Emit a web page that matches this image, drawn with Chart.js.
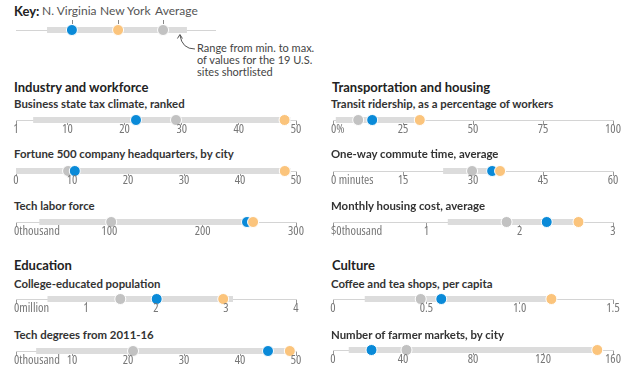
<!DOCTYPE html>
<html>
<head>
<meta charset="utf-8">
<script src="https://cdn.jsdelivr.net/npm/chart.js@4.4.1/dist/chart.umd.min.js"></script>
<style>
  body { margin: 0; background: #fff; }
  #wrap { position: relative; width: 640px; height: 379px; overflow: hidden; font-family: Lato, sans-serif; }
  .t { position: absolute; white-space: nowrap; line-height: 16px; }
  .sec { font-size: 13px; font-weight: 700; color: #222; }
  .sub { font-size: 11.4px; font-weight: 700; color: #333; }
  .key { font-size: 12px; color: #555; }
  .note { font-size: 11px; color: #444; line-height: 12px; white-space: pre; }
  canvas { position: absolute; }
</style>
</head>
<body>
<div id="wrap"></div>
<script>
// ---- data ----
var titles = ['Business state tax climate, ranked', 'Fortune 500 company headquarters, by city',
  'Tech labor force', 'College-educated population', 'Tech degrees from 2011-16',
  'Transit ridership, as a percentage of workers', 'One-way commute time, average',
  'Monthly housing cost, average', 'Coffee and tea shops, per capita', 'Number of farmer markets, by city'];
var axisMin = [1, 0, 0, 0, 0, 0, 0, 0, 0, 0];
var axisMax = [50, 50, 300, 4, 50, 100, 60, 3, 1.5, 160];
var tickValues = [[1, 10, 20, 30, 40, 50], [0, 10, 20, 30, 40, 50], [0, 100, 200, 300], [0, 1, 2, 3, 4],
  [0, 10, 20, 30, 40, 50], [0, 25, 50, 75, 100], [0, 15, 30, 45, 60], [0, 1, 2, 3], [0, 0.5, 1, 1.5],
  [0, 40, 80, 120, 160]];
var tickLabels = [['1', '10', '20', '30', '40', '50'], ['0', '10', '20', '30', '40', '50'],
  ['0thousand', '100', '200', '300'], ['0million', '1', '2', '3', '4'],
  ['0thousand', '10', '20', '30', '40', '50'], ['0%', '25', '50', '75', '100'],
  ['0 minutes', '15', '30', '45', '60'], ['$0thousand', '1', '2', '3'], ['0', '0.5', '1.0', '1.5'],
  ['0', '40', '80', '120', '160']];
var rangeMin = [4, 0, 25, 0.45, 3.6, 1, 23.6, 1.23, 0.17, 9];
var rangeMax = [49, 49, 254, 3.1, 49, 31, 35.8, 2.63, 1.17, 151];
var average = [29, 9.3, 102, 1.49, 20.9, 9, 29.8, 1.86, 0.47, 42];
var newYork = [48, 48, 254, 2.96, 48.9, 31, 35.8, 2.63, 1.17, 151];
var nVirginia = [22, 10.5, 247.5, 2.01, 45, 14, 34.1, 2.29, 0.58, 22];

// key: arbitrary 0-100 scale
var keyRange = [15.6, 85.9];
var keyNV = 28.1, keyNY = 51.3, keyAvg = 73.9;

// ---- layout ----
var panelLeft = [16, 16, 16, 16, 16, 333, 333, 333, 333, 333];
var panelAxisY = [120, 170.5, 222, 299, 350.5, 120, 170.5, 222, 299, 350];
var panelTitleY = [104, 154, 206, 284, 335, 104, 154, 206, 284, 335];
var AXIS_W = 280;

var BLUE = '#0a8ad8', ORANGE = '#fbc47c', GREY = '#c2c2c2', BAR = '#dcdcdc', LINE = '#d4d4d4';
var TICK_FONT = "semi-condensed 12.5px 'Open Sans', sans-serif";

var wrap = document.getElementById('wrap');
function addText(txt, x, cy, cls) {
  var d = document.createElement('div');
  d.className = 't ' + cls;
  d.textContent = txt;
  d.style.left = x + 'px';
  d.style.top = (cy - 8) + 'px';
  wrap.appendChild(d);
  return d;
}
function addCanvas(left, top, w, h) {
  var c = document.createElement('canvas');
  c.width = w; c.height = h;
  c.style.left = left + 'px'; c.style.top = top + 'px';
  wrap.appendChild(c);
  return c;
}

addText('Industry and workforce', 14, 87, 'sec');
addText('Education', 14, 265, 'sec');
addText('Transportation and housing', 332, 87, 'sec');
addText('Culture', 332, 265, 'sec');

function dot(data, color) {
  return { type: 'scatter', data: data, pointRadius: 5.5, pointHoverRadius: 5.5,
    backgroundColor: color, borderColor: '#fff', borderWidth: 1 };
}
function rangeLine(a, b) {
  return { type: 'line', data: [{ x: a, y: 0 }, { x: b, y: 0 }], borderColor: BAR,
    borderWidth: 6, borderCapStyle: 'butt', pointRadius: 0, fill: false };
}

// tick labels in a narrow face; a first label carrying a unit is left aligned from its tick
var tickLabelPlugin = {
  id: 'tickText',
  afterDraw: function (chart) {
    var idx = chart.options.plugins.tickText.idx;
    var sx = chart.scales.x, y0 = chart.scales.y.getPixelForValue(0), ctx = chart.ctx;
    ctx.save();
    ctx.font = TICK_FONT;
    ctx.fillStyle = '#777';
    ctx.textBaseline = 'top';
    tickValues[idx].forEach(function (v, k) {
      var lab = tickLabels[idx][k];
      var px = sx.getPixelForValue(v);
      if (k === 0 && /[^0-9.]/.test(lab)) {
        ctx.textAlign = 'left';
        ctx.fillText(lab, px - 2, y0 + 3);
      } else {
        ctx.textAlign = 'center';
        ctx.fillText(lab, px, y0 + 3);
      }
    });
    ctx.restore();
  }
};

titles.forEach(function (title, i) {
  addText(title, panelLeft[i] - 2, panelTitleY[i], 'sub');
  var c = addCanvas(panelLeft[i] - 16, panelAxisY[i] - 20, AXIS_W + 40, 40);
  new Chart(c.getContext('2d'), {
    type: 'scatter',
    data: {
      datasets: [
        dot([{ x: newYork[i], y: 0 }], ORANGE),
        dot([{ x: nVirginia[i], y: 0 }], BLUE),
        dot([{ x: average[i], y: 0 }], GREY),
        rangeLine(rangeMin[i], rangeMax[i])
      ]
    },
    options: {
      responsive: false,
      animation: false,
      devicePixelRatio: 1,
      layout: { padding: { left: 16, right: 24, top: 0, bottom: 0 } },
      plugins: { legend: { display: false }, tooltip: { enabled: false }, tickText: { idx: i } },
      scales: {
        x: {
          type: 'linear',
          position: { y: 0 },
          min: axisMin[i],
          max: axisMax[i],
          afterBuildTicks: function (scale) {
            scale.ticks = tickValues[i].map(function (v) { return { value: v }; });
          },
          border: { color: LINE, width: 1 },
          grid: { drawOnChartArea: false, drawTicks: true, tickLength: 4, color: '#999' },
          ticks: { display: false, autoSkip: false }
        },
        y: { type: 'linear', min: -1, max: 1, display: false }
      }
    },
    plugins: [tickLabelPlugin]
  });
});

// ---- key ----
addText('Key:', 14, 11, 'sec');
addText('N. Virginia', 42, 11, 'key');
addText('New York', 100, 11, 'key');
addText('Average', 155, 11, 'key');
addText('Range from min. to max.\nof values for the 19 U.S.\nsites shortlisted', 197, 50, 'note');

var keyPlugin = {
  id: 'keyMarks',
  afterDraw: function (chart) {
    var sx = chart.scales.x, y0 = chart.scales.y.getPixelForValue(0), ctx = chart.ctx;
    ctx.save();
    ctx.strokeStyle = '#888';
    ctx.lineWidth = 1;
    [keyNV, keyNY, keyAvg].forEach(function (v) {
      var px = Math.round(sx.getPixelForValue(v)) + 0.5;
      ctx.beginPath(); ctx.moveTo(px, y0 - 10); ctx.lineTo(px, y0 - 6); ctx.stroke();
    });
    // arrow to the range bar end
    var ax = sx.getPixelForValue(keyRange[1]) - 7;
    ctx.strokeStyle = '#555';
    ctx.beginPath();
    ctx.moveTo(ax, y0 + 5);
    ctx.quadraticCurveTo(ax + 2, y0 + 19, ax + 15, y0 + 19);
    ctx.stroke();
    ctx.beginPath();
    ctx.moveTo(ax - 2.5, y0 + 8.5); ctx.lineTo(ax, y0 + 4.5); ctx.lineTo(ax + 2.5, y0 + 8.5);
    ctx.stroke();
    ctx.restore();
  }
};
var kc = addCanvas(0, 0, 240, 60);
new Chart(kc.getContext('2d'), {
  type: 'scatter',
  data: {
    datasets: [
      dot([{ x: keyNY, y: 0 }], ORANGE),
      dot([{ x: keyNV, y: 0 }], BLUE),
      dot([{ x: keyAvg, y: 0 }], GREY),
      rangeLine(keyRange[0], keyRange[1])
    ]
  },
  options: {
    responsive: false,
    animation: false,
    devicePixelRatio: 1,
    layout: { padding: { left: 16, right: 25, top: 0, bottom: 0 } },
    plugins: { legend: { display: false }, tooltip: { enabled: false } },
    scales: {
      x: {
        type: 'linear', position: { y: 0 }, min: 0, max: 100,
        border: { color: LINE, width: 1 },
        grid: { display: false },
        ticks: { display: false }
      },
      y: { type: 'linear', min: -1, max: 1, display: false }
    }
  },
  plugins: [keyPlugin]
});
</script>
</body>
</html>
